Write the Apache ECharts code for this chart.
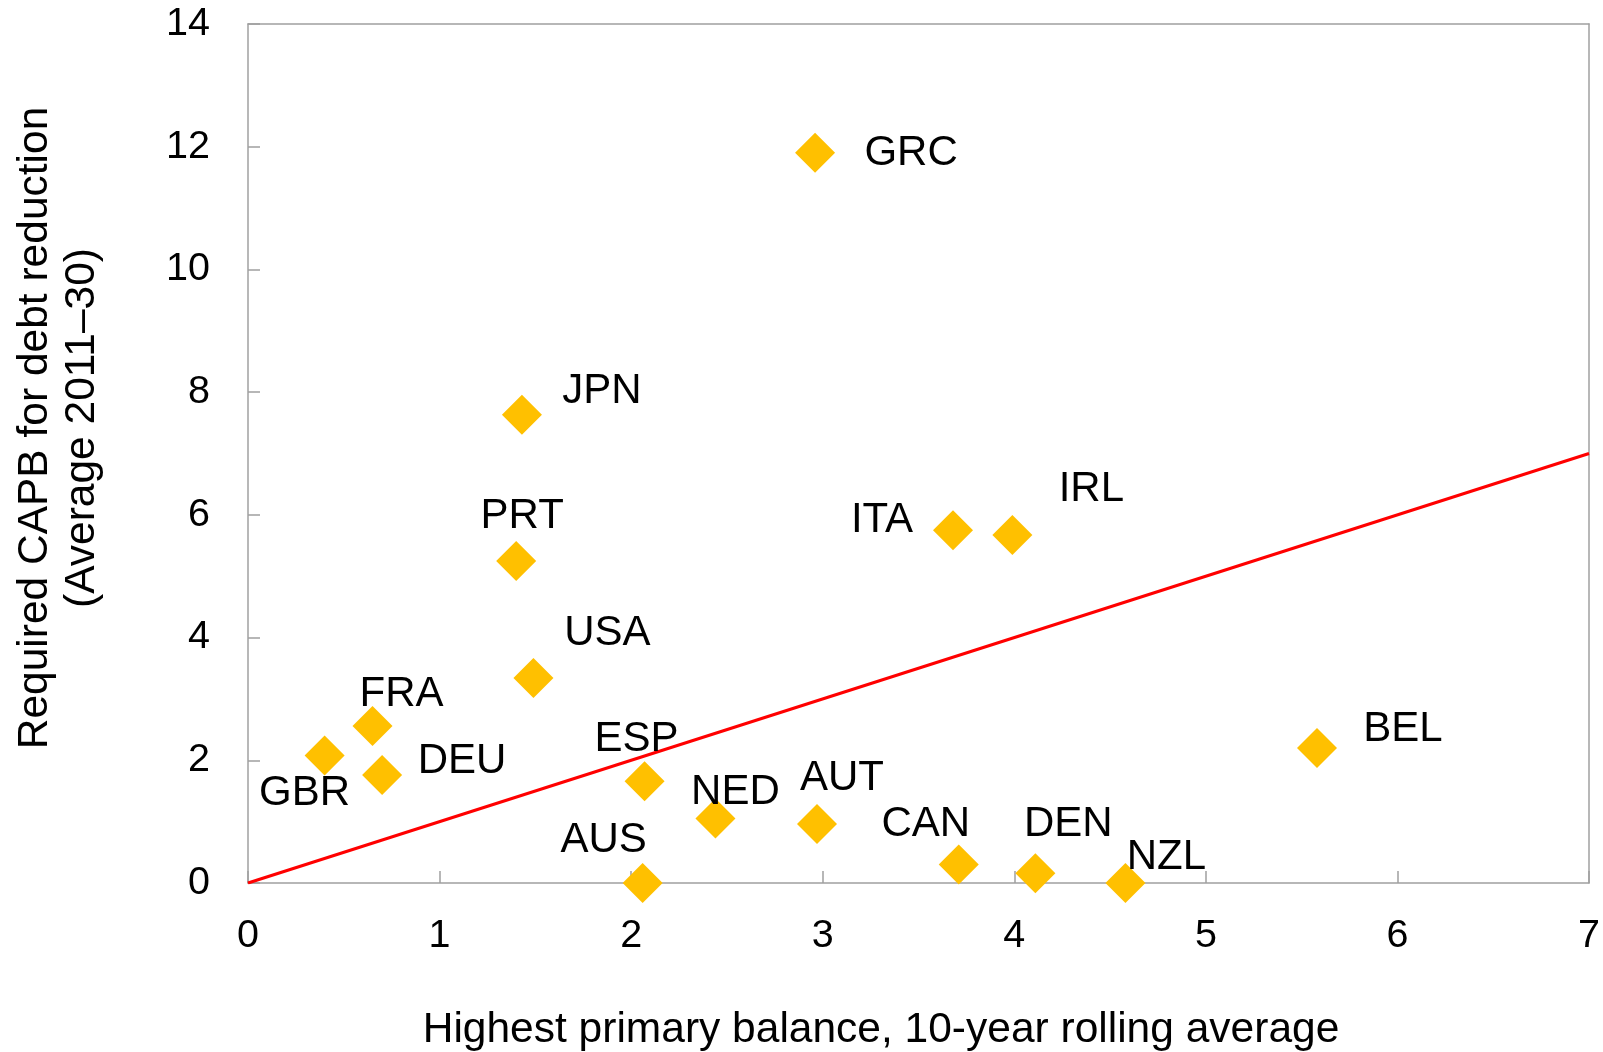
<!DOCTYPE html>
<html>
<head>
<meta charset="utf-8">
<script src="https://cdn.jsdelivr.net/npm/echarts@6/dist/echarts.min.js"></script>
<style>
  html, body { margin: 0; padding: 0; background: #fff; }
  #chart { width: 1603px; height: 1052px; }
</style>
</head>
<body>
<div id="chart"></div>
<script>
// ---- data ----
var countries = ['GRC','JPN','PRT','USA','FRA','GBR','DEU','ESP','AUS','NED','AUT','ITA','IRL','CAN','DEN','NZL','BEL'];
var highestPrimaryBalance = [2.96, 1.43, 1.40, 1.49, 0.65, 0.40, 0.70, 2.07, 2.06, 2.44, 2.97, 3.68, 3.99, 3.71, 4.11, 4.58, 5.58];
var requiredCAPB = [11.90, 7.63, 5.25, 3.34, 2.56, 2.08, 1.76, 1.66, 0.00, 1.05, 0.96, 5.75, 5.67, 0.30, 0.16, 0.00, 2.20];
var refLineX = [0, 7];
var refLineY = [0, 7];
var xTicks = [0, 1, 2, 3, 4, 5, 6, 7];
var yTicks = [0, 2, 4, 6, 8, 10, 12, 14];
var xTitle = 'Highest primary balance, 10-year rolling average';
var yTitleLines = ['Required CAPB for debt reduction', '(Average 2011\u201330)'];

// ---- label placement (layout config, px from marker centre) ----
var labelOffsets = {
  GRC: [96, 1], JPN: [80, -23], PRT: [6, -44], USA: [74, -45], FRA: [29, -32],
  GBR: [-20, 38], DEU: [80, -14], ESP: [-8, -42], AUS: [-39, -43], NED: [20, -26],
  AUT: [25, -46], ITA: [-71, -10], IRL: [79, -46], CAN: [-33, -40], DEN: [33, -49],
  NZL: [41, -26], BEL: [86, -19]
};

var FONT = '"Liberation Sans", Arial, sans-serif';
var AXIS_COLOR = '#a0a0a0';

var scatterData = countries.map(function (c, i) {
  return { name: c, value: [highestPrimaryBalance[i], requiredCAPB[i]] };
});
var lineData = refLineX.map(function (x, i) { return [x, refLineY[i]]; });

var chart = echarts.init(document.getElementById('chart'));
chart.setOption({
  animation: false,
  backgroundColor: '#ffffff',
  grid: { left: 248, right: 10, top: 24, bottom: 169, containLabel: false },
  xAxis: [{
    type: 'value', position: 'bottom',
    min: xTicks[0], max: xTicks[xTicks.length - 1], interval: 1,
    axisLine: { show: true, onZero: false, lineStyle: { color: AXIS_COLOR, width: 1.5 } },
    axisTick: { show: true, inside: true, length: 12, lineStyle: { color: AXIS_COLOR, width: 1.5 } },
    splitLine: { show: false },
    axisLabel: { fontSize: 39.5, color: '#000', fontFamily: FONT, margin: 33 }
  }, {
    type: 'value', position: 'top',
    min: xTicks[0], max: xTicks[xTicks.length - 1], interval: 1,
    axisLine: { show: true, onZero: false, lineStyle: { color: AXIS_COLOR, width: 1.5 } },
    axisTick: { show: false }, axisLabel: { show: false }, splitLine: { show: false }
  }],
  yAxis: [{
    type: 'value', position: 'left',
    min: yTicks[0], max: yTicks[yTicks.length - 1], interval: 2,
    axisLine: { show: true, onZero: false, lineStyle: { color: AXIS_COLOR, width: 1.5 } },
    axisTick: { show: true, inside: true, length: 12, lineStyle: { color: AXIS_COLOR, width: 1.5 } },
    splitLine: { show: false },
    axisLabel: { fontSize: 39.5, color: '#000', fontFamily: FONT, margin: 38 }
  }, {
    type: 'value', position: 'right',
    min: yTicks[0], max: yTicks[yTicks.length - 1], interval: 2,
    axisLine: { show: true, onZero: false, lineStyle: { color: AXIS_COLOR, width: 1.5 } },
    axisTick: { show: false }, axisLabel: { show: false }, splitLine: { show: false }
  }],
  series: [{
    type: 'line',
    data: lineData,
    showSymbol: false, symbol: 'none',
    lineStyle: { color: '#ff0000', width: 3 },
    z: 1, silent: true
  }, {
    type: 'scatter',
    data: scatterData,
    symbol: 'diamond',
    symbolSize: 40,
    itemStyle: { color: '#ffc000', opacity: 1 },
    label: {
      show: true, position: 'inside',
      formatter: function (p) { return p.name; },
      fontSize: 42, color: '#000000', fontFamily: FONT,
      textBorderWidth: 0, opacity: 1,
      align: 'center', verticalAlign: 'middle'
    },
    labelLayout: function (params) {
      var off = labelOffsets[countries[params.dataIndex]];
      return { dx: off[0], dy: off[1], hideOverlap: false };
    },
    emphasis: { disabled: true },
    z: 3
  }],
  graphic: [{
    type: 'text',
    x: 881, y: 1030,
    style: {
      text: xTitle, font: '42.5px ' + FONT, fill: '#000',
      textAlign: 'center', textVerticalAlign: 'middle'
    }
  }, {
    type: 'text',
    x: 59, y: 428,
    rotation: Math.PI / 2,
    style: {
      text: yTitleLines.join('\n'), font: '42.5px ' + FONT, fill: '#000',
      textAlign: 'center', textVerticalAlign: 'middle', lineHeight: 47
    }
  }]
});
</script>
</body>
</html>
